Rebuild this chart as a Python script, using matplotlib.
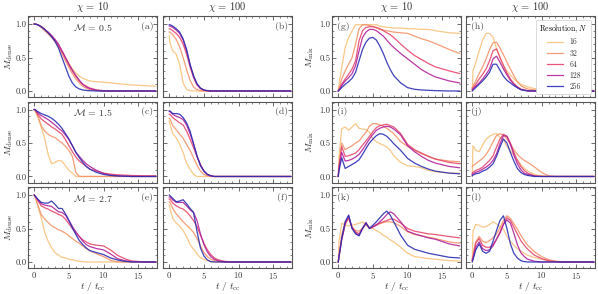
import numpy as np
import matplotlib
matplotlib.use("Agg")
import matplotlib.pyplot as plt
from matplotlib.ticker import MultipleLocator

plt.rcParams['font.family'] = 'serif'
plt.rcParams['font.serif'] = ['cmr10', 'DejaVu Serif']
plt.rcParams['mathtext.fontset'] = 'cm'
plt.rcParams['axes.formatter.use_mathtext'] = True
plt.rcParams['font.size'] = 7

# common time grid (t / t_cc)
t = [0, 0.1, 0.5, 1, 1.5, 2, 2.5, 3, 3.5, 4, 4.5, 5, 5.5, 6, 6.5, 7, 7.5, 8,
     9, 10, 11, 12, 13, 14, 16, 17.5]

resolutions = ['16', '32', '64', '128', '256']
colors = ['#f8c27c', '#f39469', '#e6466c', '#b2229c', '#2a2db2']

# M_dense, chi = 10 / chi = 100, rows Mach 0.5, 1.5, 2.7 ; each = [16, 32, 64, 128, 256]
panel_a = [
    [1.0, 1.0, 0.99, 0.97, 0.92, 0.86, 0.81, 0.75, 0.68, 0.6, 0.5, 0.41, 0.33, 0.27, 0.22, 0.19, 0.17, 0.15, 0.14, 0.13, 0.12, 0.11, 0.1, 0.09, 0.08, 0.07],
    [1.0, 1.0, 0.99, 0.95, 0.9, 0.85, 0.8, 0.74, 0.66, 0.56, 0.45, 0.35, 0.26, 0.18, 0.12, 0.07, 0.04, 0.02, 0.005] + [0.0] * 7,
    [1.0, 1.0, 0.99, 0.96, 0.92, 0.87, 0.82, 0.76, 0.68, 0.59, 0.49, 0.39, 0.3, 0.22, 0.15, 0.1, 0.07, 0.045, 0.015, 0.005] + [0.0] * 6,
    [1.0, 1.0, 0.99, 0.96, 0.92, 0.88, 0.83, 0.77, 0.7, 0.6, 0.5, 0.4, 0.31, 0.23, 0.16, 0.1, 0.06, 0.035, 0.01] + [0.0] * 7,
    [1.0, 1.0, 0.99, 0.96, 0.92, 0.87, 0.81, 0.74, 0.64, 0.5, 0.36, 0.22, 0.12, 0.06, 0.03, 0.015, 0.008, 0.004] + [0.0] * 8,
]
panel_b = [
    [0.83, 0.72, 0.6, 0.55, 0.4, 0.12, 0.02, 0.005] + [0.0] * 18,
    [0.88, 0.88, 0.84, 0.77, 0.66, 0.5, 0.32, 0.16, 0.06, 0.02, 0.005] + [0.0] * 15,
    [0.93, 0.93, 0.9, 0.86, 0.8, 0.7, 0.55, 0.36, 0.2, 0.09, 0.035, 0.01, 0.003] + [0.0] * 13,
    [0.97, 0.97, 0.95, 0.91, 0.86, 0.76, 0.6, 0.39, 0.22, 0.1, 0.04, 0.013, 0.004] + [0.0] * 13,
    [0.99, 0.99, 0.97, 0.93, 0.88, 0.78, 0.62, 0.4, 0.23, 0.11, 0.045, 0.015, 0.005] + [0.0] * 13,
]
panel_c = [
    [1.0, 0.98, 0.89, 0.74, 0.57, 0.33, 0.19, 0.21, 0.24, 0.23, 0.16, 0.09, 0.05, 0.0] + [0.0] * 12,
    [1.0, 1.0, 0.91, 0.76, 0.68, 0.63, 0.6, 0.58, 0.54, 0.5, 0.45, 0.39, 0.3, 0.06, 0.0] + [0.0] * 11,
    [1.0, 1.0, 0.93, 0.86, 0.82, 0.78, 0.74, 0.71, 0.67, 0.63, 0.55, 0.46, 0.37, 0.29, 0.23, 0.19, 0.15, 0.11, 0.08, 0.05, 0.035, 0.025, 0.02, 0.015, 0.01, 0.01],
    [1.0, 1.0, 0.95, 0.91, 0.88, 0.85, 0.81, 0.77, 0.72, 0.68, 0.62, 0.55, 0.46, 0.36, 0.3, 0.24, 0.19, 0.15, 0.09, 0.045, 0.02, 0.01, 0.005, 0.0, 0.0, 0.0],
    [1.0, 1.0, 0.97, 0.94, 0.92, 0.9, 0.87, 0.83, 0.78, 0.72, 0.64, 0.56, 0.46, 0.36, 0.28, 0.21, 0.15, 0.11, 0.06, 0.03, 0.015, 0.008, 0.004, 0.0, 0.0, 0.0],
]
panel_d = [
    [0.83, 0.78, 0.64, 0.58, 0.48, 0.36, 0.2, 0.11, 0.03, 0.0] + [0.0] * 16,
    [0.87, 0.86, 0.76, 0.7, 0.63, 0.57, 0.48, 0.39, 0.28, 0.17, 0.08, 0.03, 0.01, 0.0] + [0.0] * 12,
    [0.93, 0.93, 0.88, 0.84, 0.8, 0.77, 0.68, 0.56, 0.43, 0.3, 0.18, 0.08, 0.03, 0.01] + [0.0] * 12,
    [0.97, 0.97, 0.93, 0.9, 0.88, 0.85, 0.77, 0.64, 0.49, 0.3, 0.17, 0.08, 0.03, 0.01] + [0.0] * 12,
    [0.98, 0.98, 0.94, 0.94, 0.93, 0.88, 0.8, 0.68, 0.49, 0.31, 0.16, 0.08, 0.03, 0.01] + [0.0] * 12,
]
panel_e = [
    [1.0, 0.98, 0.84, 0.66, 0.45, 0.31, 0.21, 0.14, 0.1, 0.07, 0.06, 0.04, 0.03, 0.02, 0.01, 0.005] + [0.0] * 10,
    [1.0, 0.98, 0.86, 0.71, 0.64, 0.59, 0.54, 0.51, 0.48, 0.46, 0.43, 0.39, 0.35, 0.31, 0.28, 0.24, 0.2, 0.17, 0.12, 0.08, 0.025, 0.0] + [0.0] * 4,
    [1.0, 0.99, 0.92, 0.84, 0.81, 0.79, 0.76, 0.74, 0.71, 0.69, 0.64, 0.57, 0.5, 0.43, 0.38, 0.33, 0.3, 0.27, 0.25, 0.24, 0.18, 0.1, 0.05, 0.015, 0.0, 0.0],
    [1.0, 0.99, 0.93, 0.87, 0.85, 0.84, 0.83, 0.79, 0.75, 0.74, 0.7, 0.62, 0.53, 0.45, 0.38, 0.31, 0.26, 0.23, 0.2, 0.18, 0.12, 0.05, 0.02, 0.005, 0.0, 0.0],
    [1.0, 0.99, 0.94, 0.89, 0.88, 0.88, 0.91, 0.86, 0.8, 0.8, 0.72, 0.62, 0.51, 0.41, 0.32, 0.26, 0.21, 0.17, 0.14, 0.11, 0.06, 0.03, 0.01, 0.0, 0.0, 0.0],
]
panel_f = [
    [0.85, 0.8, 0.65, 0.58, 0.54, 0.47, 0.38, 0.26, 0.19, 0.12, 0.065, 0.04, 0.02, 0.005] + [0.0] * 12,
    [0.9, 0.89, 0.8, 0.72, 0.66, 0.6, 0.55, 0.5, 0.44, 0.35, 0.24, 0.14, 0.08, 0.04, 0.02, 0.01, 0.005] + [0.0] * 9,
    [0.94, 0.94, 0.88, 0.84, 0.81, 0.79, 0.75, 0.69, 0.62, 0.53, 0.4, 0.28, 0.18, 0.11, 0.06, 0.035, 0.02, 0.01] + [0.0] * 8,
    [0.97, 0.97, 0.93, 0.89, 0.89, 0.89, 0.84, 0.78, 0.74, 0.62, 0.42, 0.26, 0.15, 0.08, 0.04, 0.02, 0.008] + [0.0] * 9,
    [1.0, 0.99, 0.95, 0.9, 0.91, 0.93, 0.87, 0.8, 0.74, 0.46, 0.21, 0.09, 0.03, 0.005] + [0.0] * 12,
]

# M_mix
panel_g = [
    [0.0, 0.1, 0.35, 0.65, 0.8, 0.9, 0.99, 0.99, 0.99, 0.99, 0.99, 0.99, 0.99, 0.97, 0.96, 0.95, 0.95, 0.94, 0.94, 0.93, 0.93, 0.92, 0.92, 0.9, 0.87, 0.86],
    [0.0, 0.03, 0.18, 0.3, 0.4, 0.5, 0.7, 0.93, 0.99, 0.99, 0.98, 0.96, 0.94, 0.92, 0.91, 0.9, 0.89, 0.88, 0.87, 0.86, 0.82, 0.78, 0.75, 0.71, 0.62, 0.56],
    [0.0, 0.02, 0.1, 0.18, 0.25, 0.33, 0.45, 0.75, 0.9, 0.95, 0.96, 0.96, 0.95, 0.93, 0.9, 0.87, 0.84, 0.8, 0.7, 0.61, 0.53, 0.47, 0.41, 0.36, 0.3, 0.26],
    [0.0, 0.01, 0.08, 0.15, 0.2, 0.26, 0.38, 0.6, 0.8, 0.88, 0.92, 0.92, 0.9, 0.86, 0.82, 0.76, 0.7, 0.65, 0.56, 0.48, 0.4, 0.32, 0.26, 0.21, 0.15, 0.12],
    [0.0, 0.01, 0.05, 0.1, 0.14, 0.19, 0.28, 0.45, 0.62, 0.73, 0.79, 0.8, 0.76, 0.67, 0.56, 0.43, 0.32, 0.23, 0.12, 0.05, 0.025, 0.015, 0.01, 0.005, 0.0, 0.0],
]
panel_h = [
    [0.0, 0.3, 0.42, 0.6, 0.76, 0.86, 0.86, 0.8, 0.63, 0.5, 0.38, 0.3, 0.24, 0.18, 0.14, 0.1, 0.08, 0.06, 0.035, 0.02, 0.015, 0.01, 0.01, 0.01, 0.01, 0.01],
    [0.05, 0.07, 0.15, 0.26, 0.36, 0.48, 0.62, 0.72, 0.73, 0.64, 0.54, 0.43, 0.33, 0.23, 0.14, 0.08, 0.05, 0.03, 0.015, 0.01, 0.005, 0.005, 0.005, 0.005, 0.005, 0.005],
    [0.03, 0.04, 0.1, 0.18, 0.25, 0.33, 0.45, 0.6, 0.63, 0.5, 0.38, 0.27, 0.18, 0.11, 0.065, 0.03, 0.015, 0.005] + [0.0] * 8,
    [0.02, 0.03, 0.07, 0.12, 0.18, 0.25, 0.33, 0.48, 0.52, 0.43, 0.33, 0.24, 0.16, 0.1, 0.05, 0.02, 0.01] + [0.0] * 9,
    [0.0, 0.01, 0.05, 0.1, 0.15, 0.21, 0.28, 0.4, 0.4, 0.31, 0.22, 0.16, 0.12, 0.08, 0.05, 0.02, 0.01] + [0.0] * 9,
]
panel_i = [
    [0.0, 0.3, 0.71, 0.74, 0.69, 0.74, 0.79, 0.72, 0.71, 0.7, 0.66, 0.56, 0.52, 0.49, 0.47, 0.44, 0.39, 0.31, 0.21, 0.16, 0.15, 0.13, 0.09, 0.07, 0.05, 0.05],
    [0.0, 0.15, 0.5, 0.4, 0.43, 0.46, 0.5, 0.53, 0.6, 0.66, 0.75, 0.79, 0.79, 0.77, 0.75, 0.72, 0.68, 0.64, 0.52, 0.45, 0.39, 0.34, 0.3, 0.26, 0.23, 0.22],
    [0.0, 0.15, 0.45, 0.3, 0.31, 0.33, 0.35, 0.4, 0.47, 0.53, 0.6, 0.67, 0.73, 0.76, 0.77, 0.78, 0.76, 0.74, 0.64, 0.48, 0.4, 0.35, 0.3, 0.26, 0.21, 0.19],
    [0.0, 0.12, 0.36, 0.23, 0.24, 0.26, 0.29, 0.33, 0.4, 0.48, 0.56, 0.63, 0.69, 0.72, 0.74, 0.75, 0.74, 0.71, 0.62, 0.46, 0.37, 0.3, 0.24, 0.2, 0.15, 0.13],
    [0.0, 0.08, 0.28, 0.12, 0.15, 0.18, 0.21, 0.25, 0.33, 0.42, 0.5, 0.56, 0.61, 0.64, 0.63, 0.6, 0.55, 0.49, 0.39, 0.27, 0.2, 0.15, 0.11, 0.08, 0.05, 0.04],
]
panel_j = [
    [0.0, 0.46, 0.39, 0.37, 0.47, 0.56, 0.6, 0.63, 0.64, 0.58, 0.55, 0.45, 0.38, 0.32, 0.25, 0.18, 0.12, 0.08, 0.03, 0.01] + [0.0] * 6,
    [0.15, 0.16, 0.19, 0.23, 0.27, 0.33, 0.41, 0.52, 0.61, 0.64, 0.62, 0.56, 0.48, 0.4, 0.33, 0.28, 0.24, 0.21, 0.14, 0.06, 0.01] + [0.0] * 5,
    [0.05, 0.06, 0.09, 0.11, 0.14, 0.19, 0.24, 0.31, 0.44, 0.56, 0.63, 0.6, 0.5, 0.36, 0.24, 0.15, 0.09, 0.05, 0.01] + [0.0] * 7,
    [0.03, 0.04, 0.06, 0.08, 0.11, 0.14, 0.18, 0.24, 0.34, 0.49, 0.61, 0.6, 0.48, 0.32, 0.19, 0.1, 0.05, 0.03, 0.005] + [0.0] * 7,
    [0.01, 0.02, 0.04, 0.05, 0.08, 0.1, 0.14, 0.19, 0.3, 0.44, 0.56, 0.5, 0.36, 0.23, 0.12, 0.06, 0.03, 0.015] + [0.0] * 8,
]
panel_k = [
    [0.0, 0.3, 0.58, 0.55, 0.54, 0.55, 0.56, 0.58, 0.6, 0.55, 0.52, 0.5, 0.47, 0.44, 0.4, 0.37, 0.33, 0.3, 0.22, 0.13, 0.08, 0.065, 0.05, 0.04, 0.02, 0.015],
    [0.0, 0.1, 0.4, 0.6, 0.64, 0.52, 0.47, 0.46, 0.5, 0.56, 0.51, 0.53, 0.55, 0.57, 0.59, 0.6, 0.6, 0.59, 0.53, 0.45, 0.41, 0.39, 0.37, 0.35, 0.3, 0.28],
    [0.0, 0.07, 0.33, 0.56, 0.66, 0.52, 0.45, 0.42, 0.51, 0.58, 0.5, 0.53, 0.56, 0.58, 0.6, 0.62, 0.64, 0.64, 0.58, 0.5, 0.46, 0.44, 0.42, 0.41, 0.38, 0.36],
    [0.0, 0.07, 0.34, 0.58, 0.69, 0.5, 0.43, 0.4, 0.5, 0.59, 0.5, 0.52, 0.55, 0.6, 0.65, 0.71, 0.75, 0.72, 0.6, 0.46, 0.42, 0.39, 0.36, 0.34, 0.27, 0.24],
    [0.0, 0.07, 0.35, 0.6, 0.7, 0.5, 0.42, 0.39, 0.5, 0.58, 0.5, 0.55, 0.6, 0.66, 0.72, 0.76, 0.7, 0.6, 0.4, 0.25, 0.19, 0.16, 0.13, 0.11, 0.07, 0.06],
]
panel_l = [
    [0.0, 0.46, 0.56, 0.55, 0.52, 0.53, 0.56, 0.6, 0.57, 0.52, 0.49, 0.38, 0.31, 0.25, 0.2, 0.16, 0.13, 0.1, 0.065, 0.04, 0.02, 0.01, 0.005] + [0.0] * 3,
    [0.05, 0.1, 0.3, 0.38, 0.31, 0.29, 0.32, 0.36, 0.42, 0.51, 0.62, 0.69, 0.65, 0.57, 0.49, 0.4, 0.32, 0.25, 0.15, 0.08, 0.035, 0.012] + [0.0] * 4,
    [0.03, 0.06, 0.28, 0.35, 0.25, 0.22, 0.22, 0.26, 0.34, 0.45, 0.57, 0.66, 0.62, 0.52, 0.42, 0.32, 0.25, 0.19, 0.1, 0.05, 0.02, 0.005] + [0.0] * 4,
    [0.02, 0.05, 0.22, 0.3, 0.2, 0.17, 0.18, 0.24, 0.34, 0.43, 0.56, 0.63, 0.58, 0.43, 0.26, 0.14, 0.08, 0.04, 0.01] + [0.0] * 7,
    [0.0, 0.03, 0.18, 0.27, 0.16, 0.13, 0.16, 0.31, 0.47, 0.62, 0.69, 0.5, 0.27, 0.13, 0.06, 0.02, 0.005] + [0.0] * 9,
]

machs = ['0.5', '1.5', '2.7']
chis = ['10', '100']

grid = [[panel_a, panel_b, panel_g, panel_h],
        [panel_c, panel_d, panel_i, panel_j],
        [panel_e, panel_f, panel_k, panel_l]]
letters = [['a', 'b', 'g', 'h'], ['c', 'd', 'i', 'j'], ['e', 'f', 'k', 'l']]

W, H = 598, 294
fig = plt.figure(figsize=(W / 100, H / 100), dpi=100)

col_left = [28, 163, 332, 466]
ax_w = 129
row_bottom = [97, 182.5, 268]
ax_h = 81
edge = '#555555'
ylabel_x = [9.5, None, 310, None]   # label centres, pixels

for r in range(3):
    for c in range(4):
        ax = fig.add_axes([col_left[c] / W, 1 - row_bottom[r] / H, ax_w / W, ax_h / H])
        for k, vals in enumerate(grid[r][c]):
            assert len(vals) == len(t)
            ax.plot(t, vals, color=colors[k], lw=0.9, alpha=0.9, label=resolutions[k])
        ax.set_xlim(-0.9, 17.7)
        ax.set_ylim(-0.09, 1.12)
        ax.xaxis.set_major_locator(MultipleLocator(5))
        ax.xaxis.set_minor_locator(MultipleLocator(1))
        ax.yaxis.set_major_locator(MultipleLocator(0.5))
        ax.yaxis.set_minor_locator(MultipleLocator(0.1))
        ax.tick_params(which='both', direction='in', top=True, right=True,
                       colors=edge, labelcolor='#333333', labelsize=6.2, pad=1.2)
        ax.tick_params(which='major', length=3, width=0.6)
        ax.tick_params(which='minor', length=1.6, width=0.5)
        for s in ax.spines.values():
            s.set_color(edge)
            s.set_linewidth(0.8)
        ax.yaxis.set_major_formatter(plt.FormatStrFormatter('%.1f'))
        if c in (1, 3):
            ax.set_yticklabels([])
        if r < 2:
            ax.set_xticklabels([])
        else:
            ax.set_xlabel(r'$t\ /\ t_{\rm cc}$', fontsize=7, color='#333333')
            ax.xaxis.set_label_coords(0.5, -0.145)
        if c in (0, 2):
            name = r'$M_{\rm dense}$' if c == 0 else r'$M_{\rm mix}$'
            ax.set_ylabel(name, fontsize=7, color='#333333', va='center')
            ax.yaxis.set_label_coords((ylabel_x[c] - col_left[c]) / ax_w, 0.5)
        if r == 0:
            ax.set_title(r'$\chi\,=\,%s$' % chis[c % 2], fontsize=7.5, pad=4, color='#333333')
        if c < 2:
            ax.text(0.97, 0.93, '(%s)' % letters[r][c], transform=ax.transAxes,
                    ha='right', va='top', fontsize=7, color='#444444')
        else:
            ax.text(0.04, 0.93, '(%s)' % letters[r][c], transform=ax.transAxes,
                    ha='left', va='top', fontsize=7, color='#444444')
        if c == 0:
            ax.text(0.5, 0.93, r'$\mathcal{M}\,=\,%s$' % machs[r], transform=ax.transAxes,
                    ha='center', va='top', fontsize=7, color='#333333')
        if r == 0 and c == 3:
            leg = ax.legend(title=r'Resolution, $N$', loc='upper right', fontsize=5.5,
                            title_fontsize=5.5, handlelength=2.2, handletextpad=0.8,
                            labelspacing=0.35, borderpad=0.4, framealpha=1,
                            edgecolor='#cccccc', fancybox=True)
            leg.get_frame().set_linewidth(0.5)
            for txt in leg.get_texts():
                txt.set_color('#333333')

fig.savefig('out.png', dpi=100)
